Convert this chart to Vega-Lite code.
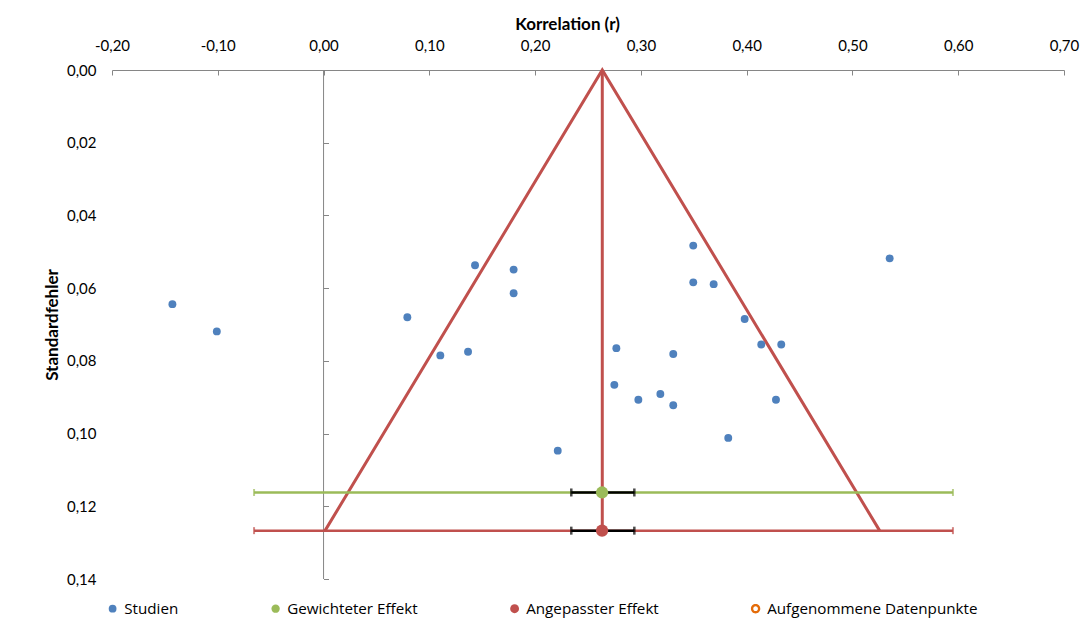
{
  "$schema": "https://vega.github.io/schema/vega-lite/v6.json",
  "width": 952,
  "height": 509,
  "padding": {"left": 43, "top": 15, "right": 4, "bottom": 4},
  "background": "white",
  "config": {
    "locale": {"number": {"decimal": ",", "thousands": ".", "grouping": [3], "currency": ["", " €"], "minus": "-"}},
    "view": {"stroke": null},
    "font": "Lato",
    "axis": {
      "labelFont": "Lato", "labelFontSize": 15, "labelColor": "#000000",
      "titleFont": "Lato", "titleFontSize": 17, "titleFontWeight": "bold", "titleColor": "#000000",
      "grid": false, "domainColor": "#868686", "tickColor": "#868686", "labelFlush": false, "labelOverlap": false
    },
    "legend": {"title": null}
  },
  "datasets": {
    "studies": [
      {"r": -0.1429, "se": 0.0644}, {"r": -0.1009, "se": 0.0719}, {"r": 0.0792, "se": 0.0680},
      {"r": 0.1104, "se": 0.0785}, {"r": 0.1366, "se": 0.0775}, {"r": 0.1432, "se": 0.0537},
      {"r": 0.1797, "se": 0.0549}, {"r": 0.1797, "se": 0.0614}, {"r": 0.2214, "se": 0.1047},
      {"r": 0.2768, "se": 0.0765}, {"r": 0.2749, "se": 0.0866}, {"r": 0.2976, "se": 0.0907},
      {"r": 0.3184, "se": 0.0891}, {"r": 0.3306, "se": 0.0922}, {"r": 0.3306, "se": 0.0781},
      {"r": 0.3495, "se": 0.0483}, {"r": 0.3495, "se": 0.0584}, {"r": 0.3688, "se": 0.0589},
      {"r": 0.3981, "se": 0.0685}, {"r": 0.4138, "se": 0.0755}, {"r": 0.4327, "se": 0.0755},
      {"r": 0.4277, "se": 0.0907}, {"r": 0.3826, "se": 0.1012}, {"r": 0.5352, "se": 0.0518}
    ],
    "funnel": [
      {"r": 0.0014, "se": 0.1267, "k": 1},
      {"r": 0.2635, "se": 0.0, "k": 2},
      {"r": 0.5257, "se": 0.1267, "k": 3}
    ],
    "center": [{"r": 0.2635, "zero": 0, "se0": 0.0, "se1": 0.1267, "top": 0, "bottom": 0.14}],
    "ci": [
      {"series": "Gewichteter Effekt", "se": 0.1162, "lo": -0.0657, "hi": 0.595, "ci_lo": 0.2342, "ci_hi": 0.2938, "est": 0.2633},
      {"series": "Angepasster Effekt", "se": 0.1267, "lo": -0.0657, "hi": 0.595, "ci_lo": 0.2342, "ci_hi": 0.2938, "est": 0.2633}
    ]
  },
  "layer": [
    {
      "data": {"name": "center"},
      "mark": {"type": "rule", "color": "#868686", "strokeWidth": 1},
      "encoding": {
        "x": {
          "field": "zero", "type": "quantitative",
          "scale": {"domain": [-0.2, 0.7], "nice": false, "zero": false},
          "axis": {"orient": "top", "title": "Korrelation (r)", "values": [-0.2, -0.1, 0, 0.1, 0.2, 0.3, 0.4, 0.5, 0.6, 0.7], "format": ".2f", "tickSize": -5, "labelPadding": 22, "titlePadding": 5, "titleX": 455}
        },
        "y": {
          "field": "top", "type": "quantitative",
          "scale": {"domain": [0, 0.14], "reverse": true, "nice": false, "zero": false},
          "axis": {"orient": "left", "offset": -211.5, "labels": false, "domain": false, "ticks": true, "tickSize": -5, "title": null, "values": [0, 0.02, 0.04, 0.06, 0.08, 0.1, 0.12, 0.14]}
        },
        "y2": {"field": "bottom"}
      }
    },
    {
      "layer": [
        {
          "data": {"name": "center"},
          "mark": {"type": "rule", "color": "#C0504D", "strokeWidth": 3},
          "encoding": {
            "x": {
              "field": "r", "type": "quantitative",
              "scale": {"domain": [-0.2, 0.7], "nice": false, "zero": false},
              "axis": {"orient": "top", "title": "Korrelation (r)", "values": [-0.2, -0.1, 0, 0.1, 0.2, 0.3, 0.4, 0.5, 0.6, 0.7], "format": ".2f", "tickSize": -5, "labelPadding": 22, "titlePadding": 5, "titleX": 455}
            },
            "y": {
              "field": "se0", "type": "quantitative",
              "scale": {"domain": [0, 0.14], "reverse": true, "nice": false, "zero": false},
              "axis": {"orient": "left", "title": "Standardfehler", "values": [0, 0.02, 0.04, 0.06, 0.08, 0.1, 0.12, 0.14], "format": ".2f", "ticks": false, "domain": false, "labelPadding": 16, "titlePadding": 5}
            },
            "y2": {"field": "se1"}
          }
        },
        {
          "data": {"name": "funnel"},
          "mark": {"type": "line", "color": "#C0504D", "strokeWidth": 3},
          "encoding": {
            "x": {"field": "r", "type": "quantitative"},
            "y": {"field": "se", "type": "quantitative"},
            "order": {"field": "k", "type": "quantitative"}
          }
        },
        {
          "data": {"name": "ci"},
          "mark": {"type": "rule", "strokeWidth": 2.5},
          "encoding": {
            "x": {"field": "lo", "type": "quantitative"},
            "x2": {"field": "hi"},
            "y": {"field": "se", "type": "quantitative"},
            "color": {"condition": {"test": "datum.series === 'Gewichteter Effekt'", "value": "#9BBB59"}, "value": "#C0504D"}
          }
        },
        {
          "data": {"name": "ci"},
          "transform": [{"fold": ["lo", "hi"], "as": ["end", "pos"]}],
          "mark": {"type": "tick", "orient": "vertical", "size": 7, "thickness": 2},
          "encoding": {
            "x": {"field": "pos", "type": "quantitative"},
            "y": {"field": "se", "type": "quantitative"},
            "color": {"condition": {"test": "datum.series === 'Gewichteter Effekt'", "value": "#9BBB59"}, "value": "#C0504D"}
          }
        },
        {
          "data": {"name": "ci"},
          "mark": {"type": "rule", "strokeWidth": 2.5, "color": "#000000"},
          "encoding": {
            "x": {"field": "ci_lo", "type": "quantitative"},
            "x2": {"field": "ci_hi"},
            "y": {"field": "se", "type": "quantitative"}
          }
        },
        {
          "data": {"name": "ci"},
          "transform": [{"fold": ["ci_lo", "ci_hi"], "as": ["end", "pos"]}],
          "mark": {"type": "tick", "orient": "vertical", "size": 8, "thickness": 2.5, "color": "#000000"},
          "encoding": {
            "x": {"field": "pos", "type": "quantitative"},
            "y": {"field": "se", "type": "quantitative"}
          }
        },
        {
          "data": {"name": "ci"},
          "transform": [{"filter": "datum.se < 0"}],
          "mark": {"type": "point", "filled": true, "opacity": 1},
          "encoding": {
            "x": {"field": "est", "type": "quantitative"},
            "y": {"field": "se", "type": "quantitative"},
            "color": {
              "field": "series", "type": "nominal",
              "scale": {"domain": ["Studien", "Gewichteter Effekt", "Angepasster Effekt", "Aufgenommene Datenpunkte"], "range": ["#4F81BD", "#9BBB59", "#C0504D", "#E46C0A"]},
              "legend": {
                "title": null, "orient": "none", "legendX": -7, "legendY": 531, "direction": "horizontal",
                "columnPadding": 89, "padding": 0, "labelFont": "Open Sans", "labelFontSize": 15.2, "labelColor": "#000000",
                "labelOffset": 4, "labelLimit": 400
              }
            },
            "size": {
              "field": "series", "type": "nominal",
              "scale": {"domain": ["Studien", "Gewichteter Effekt", "Angepasster Effekt", "Aufgenommene Datenpunkte"], "range": [60, 88, 88, 140]},
              "legend": {
                "title": null, "orient": "none", "legendX": -7, "legendY": 531, "direction": "horizontal",
                "columnPadding": 89, "padding": 0, "labelFont": "Open Sans", "labelFontSize": 15.2, "labelColor": "#000000",
                "labelOffset": 4, "labelLimit": 400
              }
            },
            "shape": {
              "field": "series", "type": "nominal",
              "scale": {"domain": ["Studien", "Gewichteter Effekt", "Angepasster Effekt", "Aufgenommene Datenpunkte"], "range": ["circle", "circle", "circle", "M1,0A1,1,0,1,1,-1,0A1,1,0,1,1,1,0ZM0.5,0A0.5,0.5,0,1,0,-0.5,0A0.5,0.5,0,1,0,0.5,0Z"]},
              "legend": {
                "title": null, "orient": "none", "legendX": -7, "legendY": 531, "direction": "horizontal",
                "columnPadding": 89, "padding": 0, "labelFont": "Open Sans", "labelFontSize": 15.2, "labelColor": "#000000",
                "labelOffset": 4, "labelLimit": 400
              }
            }
          }
        },
        {
          "data": {"name": "ci"},
          "mark": {"type": "point", "filled": true, "opacity": 1, "shape": "circle", "size": 150},
          "encoding": {
            "x": {"field": "est", "type": "quantitative"},
            "y": {"field": "se", "type": "quantitative"},
            "color": {
              "field": "series", "type": "nominal",
              "scale": {"domain": ["Studien", "Gewichteter Effekt", "Angepasster Effekt", "Aufgenommene Datenpunkte"], "range": ["#4F81BD", "#9BBB59", "#C0504D", "#E46C0A"]}
            }
          }
        },
        {
          "data": {"name": "studies"},
          "mark": {"type": "point", "filled": true, "opacity": 1, "shape": "circle", "size": 62},
          "encoding": {
            "x": {"field": "r", "type": "quantitative"},
            "y": {"field": "se", "type": "quantitative"},
            "color": {
              "datum": "Studien", "type": "nominal",
              "scale": {"domain": ["Studien", "Gewichteter Effekt", "Angepasster Effekt", "Aufgenommene Datenpunkte"], "range": ["#4F81BD", "#9BBB59", "#C0504D", "#E46C0A"]}
            }
          }
        }
      ]
    }
  ],
  "resolve": {"axis": {"y": "independent"}}
}
